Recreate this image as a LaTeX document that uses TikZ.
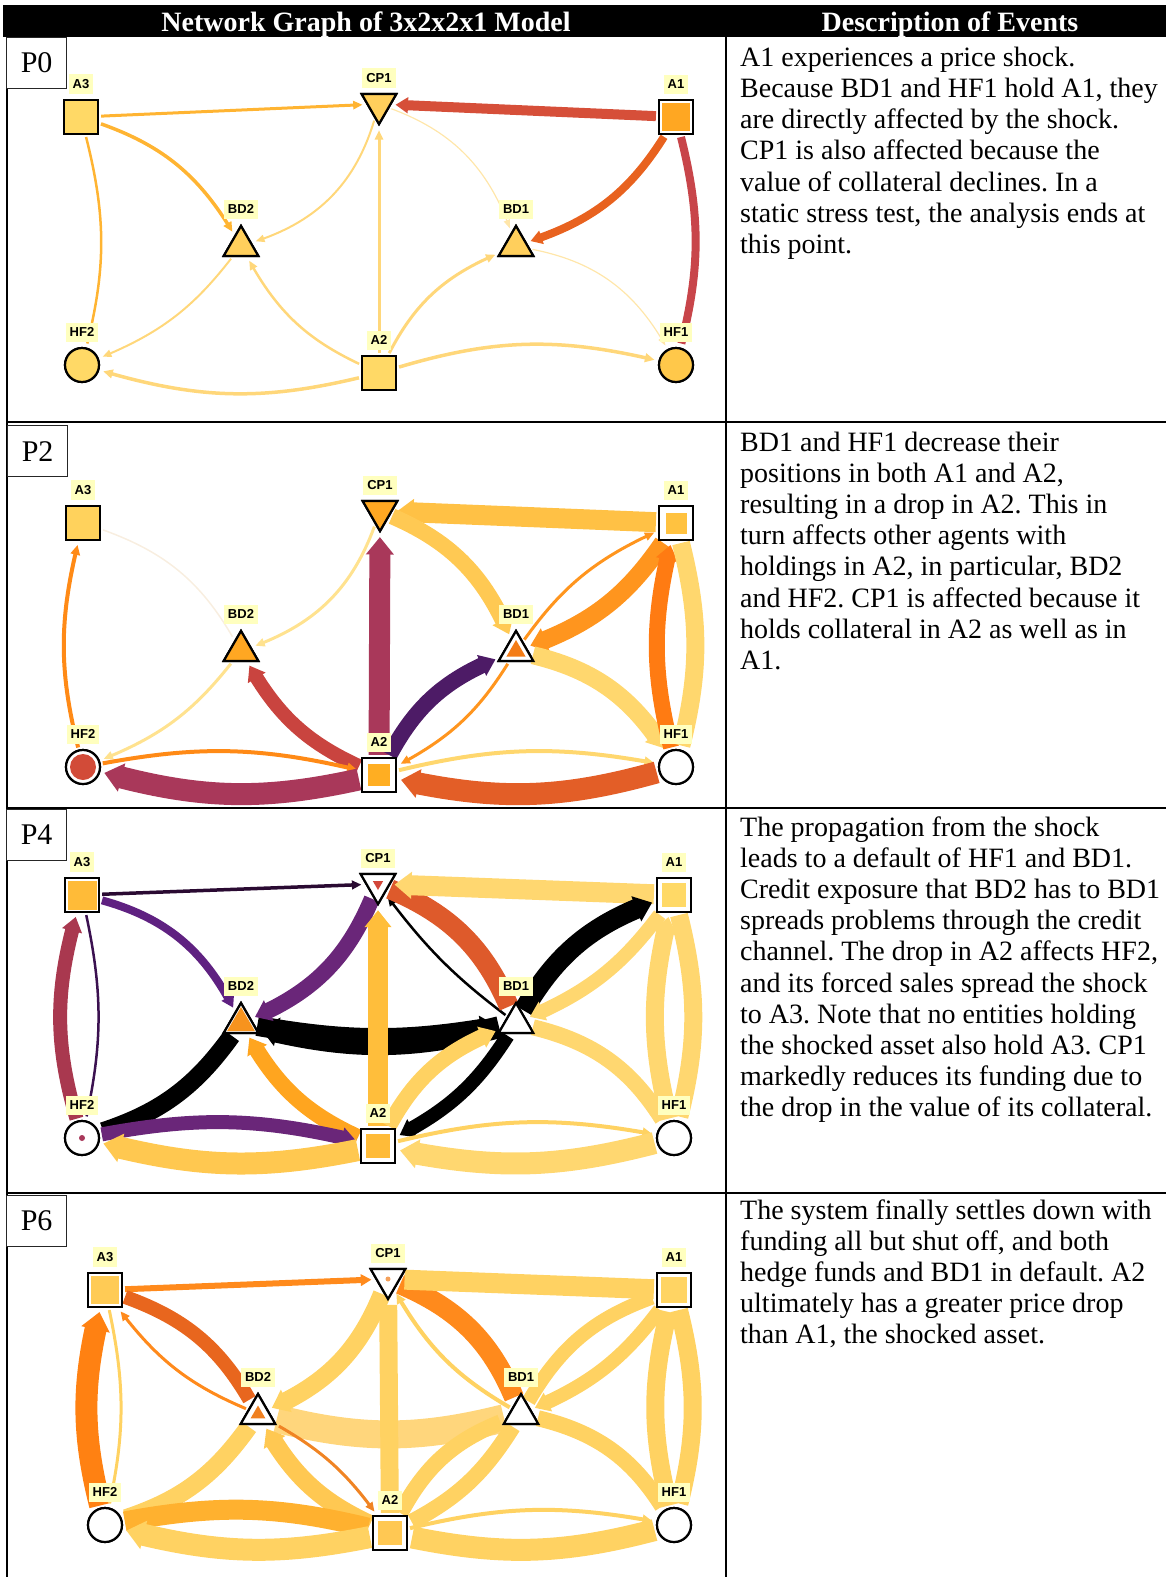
\documentclass[tikz,border=0pt]{standalone}
\usepackage{fontspec}
\usepackage{graphicx}
\setmainfont{Liberation Serif}
\newfontfamily\labfamily{Liberation Sans}
\usetikzlibrary{shapes.geometric,arrows.meta,bending,positioning}
\frenchspacing

% node and label colours
\definecolor{labyel}{HTML}{FFFFBF}
\definecolor{n0a}{HTML}{FFD966}
\definecolor{n0b}{HTML}{FFCF5C}
\definecolor{n0o}{HTML}{FFA722}
\definecolor{n0h}{HTML}{FFC84A}
\definecolor{n2a}{HTML}{FFD25C}
\definecolor{n2a1}{HTML}{FFC240}
\definecolor{n2bd1}{HTML}{F47C16}
\definecolor{n2hf2}{HTML}{D24B38}
\definecolor{n2a2}{HTML}{FFAE22}
\definecolor{n4a3}{HTML}{FFBB38}
\definecolor{n4cp}{HTML}{D2473A}
\definecolor{n4bd2}{HTML}{F7931E}
\definecolor{n4hf2}{HTML}{A8385A}
\definecolor{n6a3}{HTML}{FFCB55}
\definecolor{n6cp}{HTML}{F4A05A}
\definecolor{n6a1}{HTML}{FFD463}
\definecolor{n6bd2}{HTML}{F08020}
\definecolor{n6a2}{HTML}{FFC853}
% edge colours
\definecolor{e0or}{HTML}{FFB432}
\definecolor{e0lt}{HTML}{FFD77A}
\definecolor{e0vl}{HTML}{FFE6AA}
\definecolor{e0ra}{HTML}{D64F39}
\definecolor{e0rb}{HTML}{E8621F}
\definecolor{e0rc}{HTML}{C8454A}
\definecolor{e2pr}{HTML}{A9385A}
\definecolor{e2rd}{HTML}{C9443F}
\definecolor{e2dp}{HTML}{4D1B66}
\definecolor{e2or}{HTML}{FF8A16}
\definecolor{e2orr}{HTML}{E35E27}
\definecolor{e2ya}{HTML}{FFC145}
\definecolor{e2yb}{HTML}{FFC953}
\definecolor{e2oc}{HTML}{FF951E}
\definecolor{e2od}{HTML}{FF7B12}
\definecolor{e2yc}{HTML}{FFD76E}
\definecolor{e2yd}{HTML}{FFE28F}
\definecolor{e2fa}{HTML}{F8EEE0}
\definecolor{e4dk}{HTML}{2A0A32}
\definecolor{e4pu}{HTML}{5F2181}
\definecolor{e4pv}{HTML}{6A2679}
\definecolor{e4rd}{HTML}{A9384F}
\definecolor{e4dl}{HTML}{3B1150}
\definecolor{e4or}{HTML}{FFA51F}
\definecolor{e4ye}{HTML}{FFBE3B}
\definecolor{e4yf}{HTML}{FFD770}
\definecolor{e4yc}{HTML}{FFC850}
\definecolor{e4orr}{HTML}{DE5A2B}
\definecolor{e4yg}{HTML}{FFD262}
\definecolor{e6o}{HTML}{FF8A1C}
\definecolor{e6orr}{HTML}{E8661E}
\definecolor{e6ob}{HTML}{FF8112}
\definecolor{e6y}{HTML}{FFD262}
\definecolor{e6yb}{HTML}{FFC852}
\definecolor{e6oc}{HTML}{FFB12F}
\definecolor{e6yc}{HTML}{FFD67C}
\definecolor{e6od}{HTML}{F08424}

\newcommand\descfont{\fontsize{28}{31.2}\selectfont}
\newcommand\hdrfont{\fontsize{28}{30}\selectfont\bfseries}
\newcommand\labfont{\labfamily\bfseries\fontsize{13}{13}\selectfont}
\newcommand\pfont{\fontsize{30}{32}\selectfont}

\begin{document}
\begin{tikzpicture}[x=1pt,y=1pt,
  sq/.style={rectangle, draw=black, line width=2.2pt, minimum size=34pt, inner sep=0pt},
  tri/.style={regular polygon, regular polygon sides=3, draw=black, line width=2.2pt, minimum size=40pt, inner sep=0pt},
  itri/.style={tri, shape border rotate=180},
  cir/.style={circle, draw=black, line width=2.2pt, minimum size=34pt, inner sep=0pt},
  coresq/.style={rectangle, inner sep=0pt, minimum size=#1},
  coretri/.style={regular polygon, regular polygon sides=3, inner sep=0pt, minimum size=#1},
  coreitri/.style={coretri=#1, shape border rotate=180},
  corecir/.style={circle, inner sep=0pt, minimum size=#1},
  lab/.style={fill=labyel, font=\labfont, inner xsep=4pt, inner ysep=5pt, above=5pt of #1},
  edh/.style={line width=#1, -{Triangle[length=8pt 0.45, width=5pt 1.05]}, shorten >=4pt, shorten <=2pt},
  edn/.style={line width=#1, shorten >=4pt, shorten <=2pt},
  pbox/.style={draw=black!85, line width=1.2pt, fill=white, font=\pfont, minimum width=60pt, minimum height=51pt, anchor=north west, inner sep=0pt},
  desc/.style={anchor=base west, align=left, font=\descfont, inner sep=0pt},
  grid/.style={line width=2pt, black}
]
\useasboundingbox (0,0) rectangle (1166,-1577);

% ---------- header ----------
\fill[black] (3,-5) rectangle (1166,-37);
\node[text=white, font=\hdrfont, anchor=base, inner sep=0pt] (hdrleft) at (366,-31) {Network Graph of 3x2x2x1 Model};
\node[text=white, font=\hdrfont, anchor=base, inner sep=0pt] (hdrright) at (950,-31) {Description of Events};

% ================= P0 =================
\coordinate (p0a3) at (81,-117);
\coordinate (p0cp1) at (379,-104);
\coordinate (p0a1) at (676,-117);
\coordinate (p0bd2) at (241,-246);
\coordinate (p0bd1) at (516,-246);
\coordinate (p0hf2) at (82,-365);
\coordinate (p0a2) at (379,-373);
\coordinate (p0hf1) at (676,-365);
\node[sq] (p0a3n) at (p0a3) {};
\node[itri] (p0cp1n) at (p0cp1) {};
\node[sq] (p0a1n) at (p0a1) {};
\node[tri] (p0bd2n) at (p0bd2) {};
\node[tri] (p0bd1n) at (p0bd1) {};
\node[cir] (p0hf2n) at (p0hf2) {};
\node[sq] (p0a2n) at (p0a2) {};
\node[cir] (p0hf1n) at (p0hf1) {};

\draw[edh=3pt, e0or] (p0a3n) -- (p0cp1n);
\draw[edh=3.5pt, e0or] (p0a3n) to[bend left=20] (p0bd2n);
\draw[edn=2.5pt, e0or] (p0a3n) to[bend left=14] (p0hf2n);
\draw[edh=2pt, e0lt] (p0cp1n) to[bend left=28] (p0bd2n);
\draw[edh=3pt, e0lt] (p0a2n) -- (p0cp1n);
\draw[edh=2.5pt, e0lt] (p0a2n) to[bend left=18] (p0bd2n);
\draw[edh=2pt, e0lt] (p0bd2n) to[bend left=15] (p0hf2n);
\draw[edh=3.5pt, e0lt] (p0a2n) to[bend left=15] (p0hf2n);
\draw[edh=3pt, e0lt] (p0a2n) to[bend left=20] (p0bd1n);
\draw[edh=3.5pt, e0lt] (p0a2n) to[bend left=15] (p0hf1n);
\draw[edh=1.2pt, e0vl] (p0cp1n) to[bend left=25] (p0bd1n);
\draw[edh=1.2pt, e0vl] (p0bd1n) to[bend left=25] (p0hf1n);
\draw[edh=10pt, e0ra] (p0a1n) -- (p0cp1n);
\draw[edh=8pt, e0rb] (p0a1n) to[bend left=20] (p0bd1n);
\draw[edn=8pt, e0rc] (p0a1n) to[bend left=14] (p0hf1n);

% nodes drawn again on top of the edges
\node[sq, fill=n0a] (p0a3t) at (p0a3) {};
\node[itri, fill=n0b] (p0cp1t) at (p0cp1) {};
\node[sq, fill=white] (p0a1t) at (p0a1) {};
\node[coresq=28pt, fill=n0o] (p0a1c) at (p0a1) {};
\node[tri, fill=n0b] (p0bd2t) at (p0bd2) {};
\node[tri, fill=n0b] (p0bd1t) at (p0bd1) {};
\node[cir, fill=n0a] (p0hf2t) at (p0hf2) {};
\node[sq, fill=n0a] (p0a2t) at (p0a2) {};
\node[cir, fill=n0h] (p0hf1t) at (p0hf1) {};
\node[lab=p0a3t] (p0a3l) {A3};
\node[lab=p0cp1t] (p0cp1l) {CP1};
\node[lab=p0a1t] (p0a1l) {A1};
\node[lab=p0bd2t] (p0bd2l) {BD2};
\node[lab=p0bd1t] (p0bd1l) {BD1};
\node[lab=p0hf2t] (p0hf2l) {HF2};
\node[lab=p0a2t] (p0a2l) {A2};
\node[lab=p0hf1t] (p0hf1l) {HF1};

% ================= P2 =================
\coordinate (p2a3) at (83,-523);
\coordinate (p2cp1) at (380,-511);
\coordinate (p2a1) at (676,-523);
\coordinate (p2bd2) at (241,-651);
\coordinate (p2bd1) at (516,-651);
\coordinate (p2hf2) at (83,-767);
\coordinate (p2a2) at (379,-775);
\coordinate (p2hf1) at (676,-767);
\node[sq] (p2a3n) at (p2a3) {};
\node[itri] (p2cp1n) at (p2cp1) {};
\node[sq] (p2a1n) at (p2a1) {};
\node[tri] (p2bd2n) at (p2bd2) {};
\node[tri] (p2bd1n) at (p2bd1) {};
\node[cir] (p2hf2n) at (p2hf2) {};
\node[sq] (p2a2n) at (p2a2) {};
\node[cir] (p2hf1n) at (p2hf1) {};

\draw[edh=4pt, e2or] (p2hf2n) to[bend left=14] (p2a3n);
\draw[edn=1.5pt, e2fa] (p2a3n) to[bend left=20] (p2bd2n);
\draw[edh=3pt, e2yd] (p2cp1n) to[bend left=25] (p2bd2n);
\draw[edh=3pt, e2yd] (p2bd2n) to[bend left=15] (p2hf2n);
\draw[edh=14pt, e2rd] (p2a2n) to[bend left=18] (p2bd2n);
\draw[edh=21pt, e2pr] (p2a2n) -- (p2cp1n);
\draw[edh=4pt, e2or] (p2hf2n) to[bend left=12] (p2a2n);
\draw[edh=22pt, e2pr] (p2a2n) to[bend left=14] (p2hf2n);
\draw[edh=16pt, e2dp] (p2a2n) to[bend left=20] (p2bd1n);
\draw[edh=3pt, e2oc] (p2bd1n) to[bend left=15] (p2a2n);
\draw[edh=4pt, e2yc] (p2a2n) to[bend left=12] (p2hf1n);
\draw[edh=22pt, e2orr] (p2hf1n) to[bend left=14] (p2a2n);
\draw[edh=20pt, e2ya] (p2a1n) -- (p2cp1n);
\draw[edh=16pt, e2yb] (p2cp1n) to[bend left=22] (p2bd1n);
\draw[edh=3pt, e2oc] (p2bd1n) to[bend left=15] (p2a1n);
\draw[edh=18pt, e2oc] (p2a1n) to[bend left=18] (p2bd1n);
\draw[edh=18pt, e2yc] (p2bd1n) to[bend left=22] (p2hf1n);
\draw[edh=16pt, e2od] (p2hf1n) to[bend left=14] (p2a1n);
\draw[edn=18pt, e2yc] (p2a1n) to[bend left=14] (p2hf1n);

\node[sq, fill=n2a] (p2a3t) at (p2a3) {};
\node[itri, fill=n0o] (p2cp1t) at (p2cp1) {};
\node[sq, fill=white] (p2a1t) at (p2a1) {};
\node[coresq=21pt, fill=n2a1] (p2a1c) at (p2a1) {};
\node[tri, fill=n0o] (p2bd2t) at (p2bd2) {};
\node[tri, fill=white] (p2bd1t) at (p2bd1) {};
\node[coretri=22pt, fill=n2bd1] (p2bd1c) at (p2bd1) {};
\node[cir, fill=white] (p2hf2t) at (p2hf2) {};
\node[corecir=26pt, fill=n2hf2] (p2hf2c) at (p2hf2) {};
\node[sq, fill=white] (p2a2t) at (p2a2) {};
\node[coresq=22pt, fill=n2a2] (p2a2c) at (p2a2) {};
\node[cir, fill=white] (p2hf1t) at (p2hf1) {};
\node[lab=p2a3t] (p2a3l) {A3};
\node[lab=p2cp1t] (p2cp1l) {CP1};
\node[lab=p2a1t] (p2a1l) {A1};
\node[lab=p2bd2t] (p2bd2l) {BD2};
\node[lab=p2bd1t] (p2bd1l) {BD1};
\node[lab=p2hf2t] (p2hf2l) {HF2};
\node[lab=p2a2t] (p2a2l) {A2};
\node[lab=p2hf1t] (p2hf1l) {HF1};

% ================= P4 =================
\coordinate (p4a3) at (82,-895);
\coordinate (p4cp1) at (378,-884);
\coordinate (p4a1) at (674,-895);
\coordinate (p4bd2) at (241,-1023);
\coordinate (p4bd1) at (516,-1023);
\coordinate (p4hf2) at (82,-1138);
\coordinate (p4a2) at (378,-1146);
\coordinate (p4hf1) at (674,-1138);
\node[sq] (p4a3n) at (p4a3) {};
\node[itri] (p4cp1n) at (p4cp1) {};
\node[sq] (p4a1n) at (p4a1) {};
\node[tri] (p4bd2n) at (p4bd2) {};
\node[tri] (p4bd1n) at (p4bd1) {};
\node[cir] (p4hf2n) at (p4hf2) {};
\node[sq] (p4a2n) at (p4a2) {};
\node[cir] (p4hf1n) at (p4hf1) {};

\draw[edh=22pt, black] (p4bd1n) to[bend left=14] (p4bd2n);
\draw[edh=20pt, black] (p4bd2n) to[bend right=10] (p4bd1n);
\draw[edh=3.5pt, e4dk] (p4a3n) -- (p4cp1n);
\draw[edh=8pt, e4pu] (p4a3n) to[bend left=24] (p4bd2n);
\draw[edh=14pt, e4rd] (p4hf2n) to[bend left=16] (p4a3n);
\draw[edn=2.5pt, e4dl] (p4a3n) to[bend left=12] (p4hf2n);
\draw[edh=16pt, e4pv] (p4cp1n) to[bend left=22] (p4bd2n);
\draw[edn=18pt, black] (p4bd2n) to[bend left=18] (p4hf2n);
\draw[edh=16pt, e4or] (p4a2n) to[bend left=18] (p4bd2n);
\draw[edh=14pt, e4pv] (p4hf2n) to[bend left=12] (p4a2n);
\draw[edh=22pt, e4yc] (p4a2n) to[bend left=13] (p4hf2n);
\draw[edh=20pt, e4ye] (p4a2n) -- (p4cp1n);
\draw[edh=2.5pt, black] (p4bd1n) to[bend left=8] (p4cp1n);
\draw[edn=20pt, e4orr] (p4cp1n) to[bend left=22] (p4bd1n);
\draw[edh=20pt, e4yf] (p4a1n) -- (p4cp1n);
\draw[edh=20pt, black] (p4bd1n) to[bend left=20] (p4a1n);
\draw[edh=14pt, e4yf] (p4a1n) to[bend left=15] (p4bd1n);
\draw[edn=16pt, e4yf] (p4bd1n) to[bend left=22] (p4hf1n);
\draw[edh=18pt, e4yf] (p4hf1n) to[bend left=14] (p4a1n);
\draw[edn=18pt, e4yf] (p4a1n) to[bend left=14] (p4hf1n);
\draw[edh=16pt, e4yg] (p4a2n) to[bend left=20] (p4bd1n);
\draw[edh=14pt, black] (p4bd1n) to[bend left=15] (p4a2n);
\draw[edh=4pt, e4yg] (p4a2n) to[bend left=12] (p4hf1n);
\draw[edh=22pt, e4yf] (p4hf1n) to[bend left=13] (p4a2n);

\node[sq, fill=white] (p4a3t) at (p4a3) {};
\node[coresq=29pt, fill=n4a3] (p4a3c) at (p4a3) {};
\node[itri, fill=white] (p4cp1t) at (p4cp1) {};
\node[coreitri=12pt, fill=n4cp] (p4cp1c) at (p4cp1) {};
\node[sq, fill=white] (p4a1t) at (p4a1) {};
\node[coresq=24pt, fill=n0a] (p4a1c) at (p4a1) {};
\node[tri, fill=white] (p4bd2t) at (p4bd2) {};
\node[coretri=32pt, fill=n4bd2] (p4bd2c) at (p4bd2) {};
\node[tri, fill=white] (p4bd1t) at (p4bd1) {};
\node[cir, fill=white] (p4hf2t) at (p4hf2) {};
\node[corecir=6pt, fill=n4hf2] (p4hf2c) at (p4hf2) {};
\node[sq, fill=white] (p4a2t) at (p4a2) {};
\node[coresq=24pt, fill=n4a3] (p4a2c) at (p4a2) {};
\node[cir, fill=white] (p4hf1t) at (p4hf1) {};
\node[lab=p4a3t] (p4a3l) {A3};
\node[lab=p4cp1t] (p4cp1l) {CP1};
\node[lab=p4a1t] (p4a1l) {A1};
\node[lab=p4bd2t] (p4bd2l) {BD2};
\node[lab=p4bd1t] (p4bd1l) {BD1};
\node[lab=p4hf2t] (p4hf2l) {HF2};
\node[lab=p4a2t] (p4a2l) {A2};
\node[lab=p4hf1t] (p4hf1l) {HF1};

% ================= P6 =================
\coordinate (p6a3) at (105,-1290);
\coordinate (p6cp1) at (388,-1279);
\coordinate (p6a1) at (674,-1290);
\coordinate (p6bd2) at (258,-1414);
\coordinate (p6bd1) at (521,-1414);
\coordinate (p6hf2) at (105,-1525);
\coordinate (p6a2) at (390,-1533);
\coordinate (p6hf1) at (674,-1525);
\node[sq] (p6a3n) at (p6a3) {};
\node[itri] (p6cp1n) at (p6cp1) {};
\node[sq] (p6a1n) at (p6a1) {};
\node[tri] (p6bd2n) at (p6bd2) {};
\node[tri] (p6bd1n) at (p6bd1) {};
\node[cir] (p6hf2n) at (p6hf2) {};
\node[sq] (p6a2n) at (p6a2) {};
\node[cir] (p6hf1n) at (p6hf1) {};

\draw[edn=28pt, e6yc] (p6bd1n) to[bend left=14] (p6bd2n);
\draw[edh=6pt, e6o] (p6a3n) -- (p6cp1n);
\draw[edn=14pt, e6orr] (p6a3n) to[bend left=20] (p6bd2n);
\draw[edh=3pt, e6o] (p6bd2n) to[bend left=15] (p6a3n);
\draw[edh=22pt, e6ob] (p6hf2n) to[bend left=14] (p6a3n);
\draw[edn=3pt, e6y] (p6a3n) to[bend left=12] (p6hf2n);
\draw[edh=18pt, e6y] (p6cp1n) to[bend left=22] (p6bd2n);
\draw[edn=18pt, e6y] (p6bd2n) to[bend left=18] (p6hf2n);
\draw[edh=18pt, e6yb] (p6a2n) to[bend left=18] (p6bd2n);
\draw[edh=3pt, e6od] (p6bd2n) to[bend left=12] (p6a2n);
\draw[edn=20pt, e6oc] (p6hf2n) to[bend left=12] (p6a2n);
\draw[edh=22pt, e6y] (p6a2n) to[bend left=13] (p6hf2n);
\draw[edn=18pt, e6y] (p6a2n) -- (p6cp1n);
\draw[edn=20pt, e6o] (p6cp1n) to[bend left=22] (p6bd1n);
\draw[edh=4pt, e6y] (p6bd1n) to[bend left=15] (p6cp1n);
\draw[edn=20pt, e6y] (p6a1n) -- (p6cp1n);
\draw[edn=14pt, e6y] (p6bd1n) to[bend left=20] (p6a1n);
\draw[edh=14pt, e6y] (p6a1n) to[bend left=15] (p6bd1n);
\draw[edn=16pt, e6y] (p6bd1n) to[bend left=22] (p6hf1n);
\draw[edn=18pt, e6y] (p6hf1n) to[bend left=14] (p6a1n);
\draw[edn=18pt, e6y] (p6a1n) to[bend left=14] (p6hf1n);
\draw[edn=16pt, e6y] (p6a2n) to[bend left=20] (p6bd1n);
\draw[edn=16pt, e6y] (p6bd1n) to[bend left=15] (p6a2n);
\draw[edh=4pt, e6y] (p6a2n) to[bend left=12] (p6hf1n);
\draw[edn=22pt, e6y] (p6hf1n) to[bend left=13] (p6a2n);

\node[sq, fill=white] (p6a3t) at (p6a3) {};
\node[coresq=28pt, fill=n6a3] (p6a3c) at (p6a3) {};
\node[itri, fill=white] (p6cp1t) at (p6cp1) {};
\node[corecir=5pt, fill=n6cp] (p6cp1c) at (p6cp1) {};
\node[sq, fill=white] (p6a1t) at (p6a1) {};
\node[coresq=26pt, fill=n6a1] (p6a1c) at (p6a1) {};
\node[tri, fill=white] (p6bd2t) at (p6bd2) {};
\node[coretri=17pt, fill=n6bd2] (p6bd2c) at (p6bd2) {};
\node[tri, fill=white] (p6bd1t) at (p6bd1) {};
\node[cir, fill=white] (p6hf2t) at (p6hf2) {};
\node[sq, fill=white] (p6a2t) at (p6a2) {};
\node[coresq=24pt, fill=n6a2] (p6a2c) at (p6a2) {};
\node[cir, fill=white] (p6hf1t) at (p6hf1) {};
\node[lab=p6a3t] (p6a3l) {A3};
\node[lab=p6cp1t] (p6cp1l) {CP1};
\node[lab=p6a1t] (p6a1l) {A1};
\node[lab=p6bd2t] (p6bd2l) {BD2};
\node[lab=p6bd1t] (p6bd1l) {BD1};
\node[lab=p6hf2t] (p6hf2l) {HF2};
\node[lab=p6a2t] (p6a2l) {A2};
\node[lab=p6hf1t] (p6hf1l) {HF1};

% ---------- table rules ----------
\draw[grid] (7,-37) -- (7,-1577);
\draw[grid] (726,-37) -- (726,-1577);
\draw[grid] (7,-422) -- (1166,-422);
\draw[grid] (7,-808) -- (1166,-808);
\draw[grid] (7,-1193) -- (1166,-1193);

% ---------- step tags ----------
\node[pbox] (tag0) at (6,-37) {P0};
\node[pbox] (tag2) at (7,-425) {P2};
\node[pbox] (tag4) at (6,-809) {P4};
\node[pbox] (tag6) at (6,-1195) {P6};

% ---------- descriptions (anchored at the baseline of the last line) ----------
\node[desc] (txt0) at (740,-253.5) {A1 experiences a price shock.\\
Because BD1 and HF1 hold A1, they\\
are directly affected by the shock.\\
CP1 is also affected because the\\
value of collateral declines. In a\\
static stress test, the analysis ends at\\
this point.};
\node[desc] (txt2) at (740,-669.4) {BD1 and HF1 decrease their\\
positions in both A1 and A2,\\
resulting in a drop in A2. This in\\
turn affects other agents with\\
holdings in A2, in particular, BD2\\
and HF2. CP1 is affected because it\\
holds collateral in A2 as well as in\\
A1.};
\node[desc] (txt4) at (740,-1116.8) {The propagation from the shock\\
leads to a default of HF1 and BD1.\\
Credit exposure that BD2 has to BD1\\
spreads problems through the credit\\
channel. The drop in A2 affects HF2,\\
and its forced sales spread the shock\\
to A3. Note that no entities holding\\
the shocked asset also hold A3. CP1\\
markedly reduces its funding due to\\
the drop in the value of its collateral.};
\node[desc] (txt6) at (740,-1343.8) {The system finally settles down with\\
funding all but shut off, and both\\
hedge funds and BD1 in default. A2\\
ultimately has a greater price drop\\
than A1, the shocked asset.};
\end{tikzpicture}
\end{document}
